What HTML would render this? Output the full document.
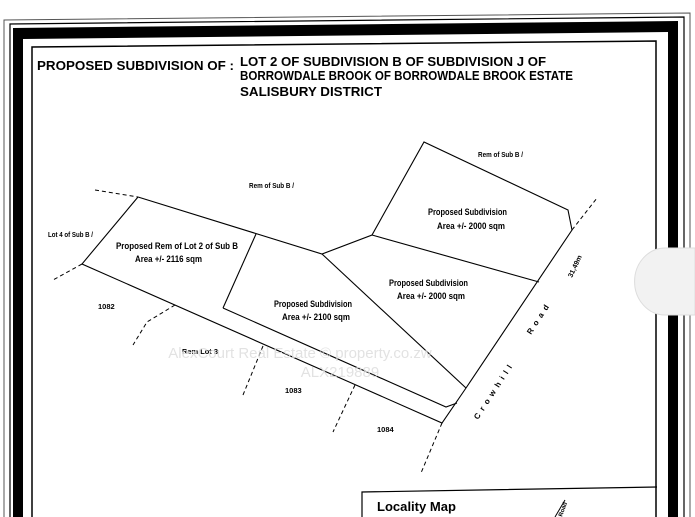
<!DOCTYPE html>
<html><head><meta charset="utf-8"><style>
html,body{margin:0;padding:0;background:#fff;}
svg{display:block;}
text{font-family:"Liberation Sans",sans-serif;font-weight:bold;fill:#000;}
</style></head><body>
<svg width="695" height="517" viewBox="0 0 695 517" xmlns="http://www.w3.org/2000/svg">
<rect width="695" height="517" fill="#fff"/>
<!-- frame -->
<g fill="none" stroke="#000">
<polyline points="4,517 4,20 690,13 690,517" stroke-width="1" stroke="#555"/>
<polyline points="10,517 10,24 684,17 684,517" stroke-width="1.2"/>
<polygon points="13,517 13,28 678,21 678,517 668,517 668,32 23,39 23,517" fill="#000" stroke="none"/>
<polyline points="32,517 32,47 656,41 656,517" stroke-width="1.5"/>
</g>
<!-- title -->
<text x="37" y="70" font-size="12.5" textLength="197" lengthAdjust="spacingAndGlyphs">PROPOSED SUBDIVISION OF :</text>
<text x="240" y="66" font-size="12.5" textLength="306" lengthAdjust="spacingAndGlyphs">LOT 2 OF SUBDIVISION B OF SUBDIVISION J OF</text>
<text x="240" y="80" font-size="12.5" textLength="333" lengthAdjust="spacingAndGlyphs">BORROWDALE BROOK OF BORROWDALE BROOK ESTATE</text>
<text x="240" y="96" font-size="12.5" textLength="142" lengthAdjust="spacingAndGlyphs">SALISBURY DISTRICT</text>
<!-- plan lines -->
<g fill="none" stroke="#000" stroke-width="1.1">
<polyline points="138,197 82,264 442,423 466,388 572,230 568,210 424,142 372,235 322,254 138,197"/>
<line x1="256" y1="234" x2="223" y2="308"/>
<polyline points="223,308 446,407 457,403"/>
<line x1="322" y1="254" x2="466" y2="388"/>
<line x1="372" y1="235" x2="539" y2="282"/>
</g>
<g fill="none" stroke="#000" stroke-width="1" stroke-dasharray="4,3">
<line x1="95" y1="190" x2="138" y2="197"/>
<line x1="82" y1="264" x2="53" y2="280"/>
<polyline points="175,305 147,322 133,345"/>
<line x1="263" y1="346" x2="243" y2="395"/>
<line x1="355" y1="385" x2="333" y2="432"/>
<line x1="442" y1="423" x2="421" y2="473"/>
<line x1="572" y1="230" x2="597" y2="198"/>
</g>
<!-- labels -->
<text x="249" y="188" font-size="7.5" textLength="45" lengthAdjust="spacingAndGlyphs">Rem of Sub B /</text>
<text x="478" y="157" font-size="7.5" textLength="45" lengthAdjust="spacingAndGlyphs">Rem of Sub B /</text>
<text x="48" y="237" font-size="7.5" textLength="45" lengthAdjust="spacingAndGlyphs">Lot 4 of Sub B /</text>
<text x="116" y="249" font-size="9.5" textLength="122" lengthAdjust="spacingAndGlyphs">Proposed  Rem of Lot 2  of Sub B</text>
<text x="135" y="262" font-size="9.5" textLength="67" lengthAdjust="spacingAndGlyphs">Area +/- 2116 sqm</text>
<text x="274" y="307" font-size="9.5" textLength="78" lengthAdjust="spacingAndGlyphs">Proposed Subdivision</text>
<text x="282" y="320" font-size="9.5" textLength="68" lengthAdjust="spacingAndGlyphs">Area +/- 2100 sqm</text>
<text x="428" y="215" font-size="9.5" textLength="79" lengthAdjust="spacingAndGlyphs">Proposed Subdivision</text>
<text x="437" y="229" font-size="9.5" textLength="68" lengthAdjust="spacingAndGlyphs">Area +/- 2000 sqm</text>
<text x="389" y="286" font-size="9.5" textLength="79" lengthAdjust="spacingAndGlyphs">Proposed Subdivision</text>
<text x="397" y="299" font-size="9.5" textLength="68" lengthAdjust="spacingAndGlyphs">Area +/- 2000 sqm</text>
<text x="98" y="309" font-size="7.5">1082</text>
<text x="182" y="354" font-size="7.5" textLength="36" lengthAdjust="spacingAndGlyphs">Rem Lot 3</text>
<text x="285" y="393" font-size="7.5">1083</text>
<text x="377" y="432" font-size="7.5">1084</text>
<text transform="translate(478,420) rotate(-57)" font-size="8" letter-spacing="4.5">Crowhill</text>
<text transform="translate(531,335) rotate(-57)" font-size="8" letter-spacing="4.5">Road</text>
<text transform="translate(572,278) rotate(-65)" font-size="7">31,49m</text>
<!-- watermark -->
<text x="300" y="358" font-size="15" font-weight="normal" text-anchor="middle" style="font-weight:normal;fill:#ddd" opacity="0.85">AlexCourt Real Estate  ©  property.co.zw</text>
<text x="340" y="377" font-size="15" text-anchor="middle" style="font-weight:normal;fill:#ddd" opacity="0.85">ALX219889</text>
<!-- locality map -->
<polyline points="362,517 362,492 657,487" fill="none" stroke="#000" stroke-width="1.2"/>
<text x="377" y="511" font-size="13" textLength="79" lengthAdjust="spacingAndGlyphs">Locality Map</text>
<line x1="555" y1="517" x2="565" y2="500" stroke="#000" stroke-width="1"/>
<text transform="translate(562,517) rotate(-70)" font-size="6">Road</text>
<!-- side tab -->
<path d="M695,248 L665,248 A30,33 0 0 0 665,315 L695,315 Z" fill="#f2f2f2" stroke="#ddd"/>
</svg>
</body></html>
